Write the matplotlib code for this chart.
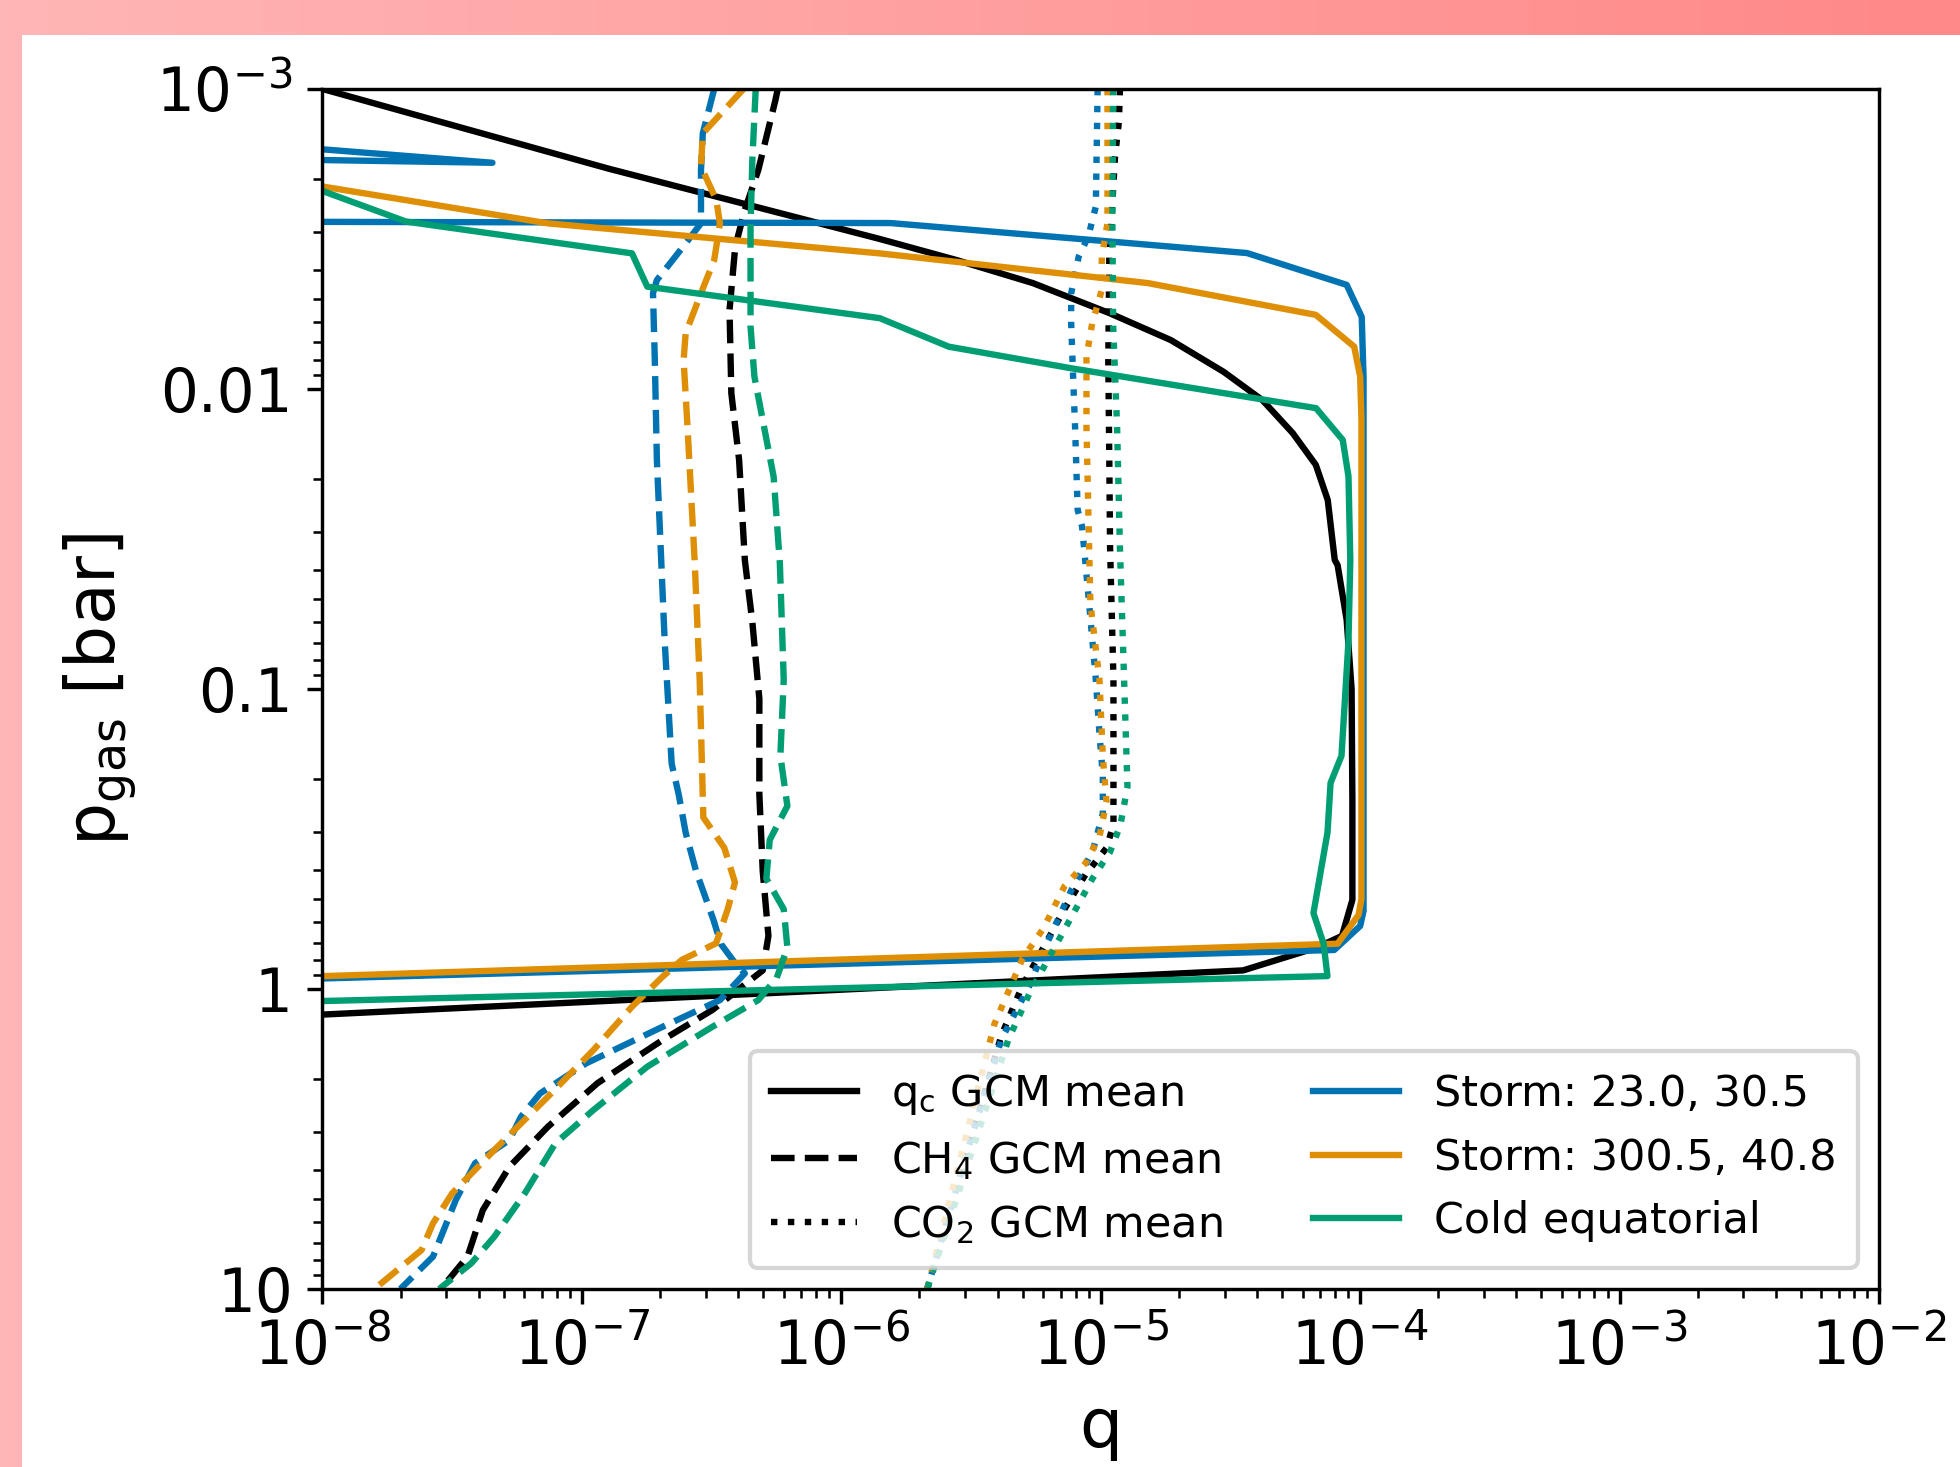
import matplotlib.pyplot as plt
import numpy as np
from matplotlib.patches import Rectangle

# values as log10(q) and log10(p_gas / bar)
# solid: cloud mass fraction q_c
mean_qc_logq = [-8.3, -8.0, -6.9, -5.852, -5.557, -5.262, -4.967, -4.730, -4.526, -4.377, -4.260,
                -4.171, -4.125, -4.098, -4.087, -4.052, -4.033, -4.03, -4.03, -4.07, -4.167, -4.451, -7.992, -8.5]
mean_qc_logp = [-3.07, -3.0, -2.735, -2.50, -2.430, -2.353, -2.253, -2.163, -2.057, -1.963, -1.853,
                -1.747, -1.630, -1.430, -1.413, -1.23, -1.0, -0.63, -0.297, -0.177, -0.138, -0.062, 0.085, 0.106]

storm1_qc_logq = [-8.5, -7.345, -8.5, -8.5, -8.0, -5.810, -5.040, -4.436, -4.052, -3.994, -3.987, -3.987,
                  -4.0, -4.10, -8.0, -8.5]
storm1_qc_logp = [-2.833, -2.754, -2.770, -2.557, -2.557, -2.553, -2.497, -2.453, -2.347, -2.24, -2.04, -0.26,
                  -0.21, -0.13, -0.035, -0.025]

storm2_qc_logq = [-8.5, -7.994, -7.131, -5.852, -4.819, -4.171, -4.023, -4.0, -3.995, -3.995, -4.006, -4.087,
                  -7.992, -8.5]
storm2_qc_logp = [-2.745, -2.674, -2.552, -2.452, -2.353, -2.247, -2.141, -2.041, -1.9, -0.30, -0.247, -0.151,
                  -0.043, -0.029]

cold_qc_logq = [-8.5, -7.994, -7.678, -6.807, -6.748, -5.852, -5.586, -5.114, -4.170, -4.067, -4.045, -4.038,
                -4.045, -4.072, -4.114, -4.126, -4.18, -4.141, -4.126, -7.992, -8.5]
cold_qc_logp = [-2.816, -2.658, -2.558, -2.452, -2.341, -2.236, -2.141, -2.069, -1.936, -1.83, -1.708, -1.43,
                -1.16, -0.777, -0.687, -0.521, -0.253, -0.151, -0.043, 0.04, 0.051]

# dashed: CH4
mean_ch4_logq = [-6.245, -6.254, -6.320, -6.372, -6.409, -6.431, -6.424, -6.394, -6.372, -6.343, -6.316, -6.316,
                 -6.303, -6.281, -6.303, -6.35, -6.497, -6.689, -6.94, -7.131, -7.279, -7.382, -7.441, -7.515, -7.545]
mean_ch4_logp = [-3.0, -2.963, -2.73, -2.597, -2.474, -2.263, -1.986, -1.763, -1.43, -1.223, -0.967, -0.649,
                 -0.393, -0.177, -0.062, -0.03, 0.07, 0.17, 0.314, 0.459, 0.592, 0.737, 0.892, 0.97, 1.0]

storm1_ch4_logq = [-6.49, -6.534, -6.541, -6.541, -6.63, -6.711, -6.726, -6.719, -6.711, -6.696, -6.681, -6.654,
                   -6.627, -6.6, -6.56, -6.492, -6.465, -6.41, -6.372, -6.468, -6.689, -6.984, -7.161, -7.235,
                   -7.279, -7.412, -7.486, -7.574, -7.7]
storm1_ch4_logp = [-3.0, -2.852, -2.73, -2.552, -2.452, -2.363, -2.319, -2.097, -1.763, -1.463, -1.16, -0.751,
                   -0.649, -0.521, -0.393, -0.228, -0.151, -0.087, -0.052, 0.037, 0.126, 0.248, 0.348, 0.426,
                   0.503, 0.581, 0.703, 0.892, 1.0]

storm2_ch4_logq = [-6.377, -6.534, -6.541, -6.482, -6.468, -6.49, -6.541, -6.6, -6.608, -6.593, -6.565, -6.546,
                   -6.532, -6.451, -6.41, -6.438, -6.483, -6.615, -6.689, -6.807, -6.955, -7.131, -7.338, -7.5,
                   -7.574, -7.618, -7.8]
storm2_ch4_logp = [-3.0, -2.852, -2.741, -2.63, -2.552, -2.43, -2.319, -2.186, -2.097, -1.874, -1.42, -1.031,
                   -0.572, -0.47, -0.355, -0.266, -0.152, -0.097, -0.041, 0.059, 0.203, 0.359, 0.537, 0.681,
                   0.781, 0.87, 1.0]

cold_ch4_logq = [-6.33, -6.343, -6.35, -6.35, -6.335, -6.298, -6.261, -6.237, -6.222, -6.235, -6.208, -6.276,
                 -6.289, -6.222, -6.208, -6.249, -6.32, -6.497, -6.748, -6.955, -7.102, -7.22, -7.338, -7.426, -7.55]
cold_ch4_logp = [-3.0, -2.763, -2.541, -2.208, -2.041, -1.874, -1.708, -1.42, -1.031, -0.777, -0.61, -0.497,
                 -0.368, -0.266, -0.138, -0.037, 0.037, 0.126, 0.259, 0.403, 0.514, 0.681, 0.826, 0.914, 1.0]

# dotted: CO2
mean_co2_logq = [-4.926, -4.930, -4.945, -4.967, -4.971, -4.967, -4.964, -4.951, -4.951, -4.951, -4.978, -5.059,
                 -5.14, -5.221, -5.302, -5.383, -5.669]
mean_co2_logp = [-3.0, -2.891, -2.774, -2.441, -2.097, -1.763, -1.469, -1.031, -0.712, -0.547, -0.47, -0.381,
                 -0.266, -0.138, -0.011, 0.155, 1.0]

storm1_co2_logq = [-5.012, -5.019, -5.048, -5.085, -5.114, -5.114, -5.107, -5.099, -5.089, -5.072, -5.045, -5.019,
                   -5.005, -4.992, -4.992, -5.032, -5.113, -5.167, -5.221, -5.275, -5.383, -5.524, -5.669]
storm1_co2_logp = [-3.0, -2.608, -2.508, -2.441, -2.319, -2.219, -2.052, -1.874, -1.597, -1.542, -1.287, -1.031,
                   -0.853, -0.712, -0.585, -0.457, -0.33, -0.228, -0.126, -0.011, 0.168, 0.57, 1.0]

storm2_co2_logq = [-4.974, -4.974, -4.996, -4.996, -5.033, -5.055, -5.055, -5.048, -5.04, -5.005, -4.992, -4.978,
                   -5.005, -5.059, -5.14, -5.221, -5.302, -5.41, -5.669]
storm2_co2_logp = [-3.0, -2.552, -2.441, -2.33, -2.219, -2.108, -1.874, -1.597, -1.287, -1.031, -0.777, -0.623,
                   -0.508, -0.419, -0.342, -0.202, -0.1, 0.117, 1.0]

cold_co2_logq = [-4.952, -4.955, -4.952, -4.937, -4.926, -4.91, -4.897, -4.924, -4.964, -5.032, -5.113, -5.194,
                 -5.275, -5.356, -5.669]
cold_co2_logp = [-3.0, -2.541, -2.208, -1.874, -1.469, -1.031, -0.674, -0.547, -0.457, -0.368, -0.24, -0.113,
                 0.015, 0.168, 1.0]

blue, orange, green = '#0173B2', '#DE8F05', '#029E73'

fig = plt.figure(figsize=(6.4, 4.7903), dpi=306.25)

# pink frame around the white figure area
bg = fig.add_axes([0, 0, 1, 1], zorder=-5)
grad = np.linspace(0, 1, 256).reshape(1, -1)
top_c = np.array([255, 182, 182]) / 255
right_c = np.array([255, 136, 136]) / 255
img = top_c[None, None, :] * (1 - grad[..., None]) + right_c[None, None, :] * grad[..., None]
bg.imshow(img, aspect='auto', extent=[0, 1, 0, 1])
bg.add_patch(Rectangle((22 / 1960, 0), 1, 1 - 35 / 1467, facecolor='white', edgecolor='none'))
bg.set_xlim(0, 1)
bg.set_ylim(0, 1)
bg.axis('off')

ax = fig.add_axes([0.16454, 0.12134, 0.79413, 0.81800])

lw = 1.5
ax.plot(10 ** np.array(mean_qc_logq), 10 ** np.array(mean_qc_logp), color='black', lw=lw)
ax.plot(10 ** np.array(mean_ch4_logq), 10 ** np.array(mean_ch4_logp), color='black', lw=lw, ls='--')
ax.plot(10 ** np.array(mean_co2_logq), 10 ** np.array(mean_co2_logp), color='black', lw=lw, ls=':')

for qc_q, qc_p, ch_q, ch_p, co_q, co_p, col in [
        (storm1_qc_logq, storm1_qc_logp, storm1_ch4_logq, storm1_ch4_logp, storm1_co2_logq, storm1_co2_logp, blue),
        (storm2_qc_logq, storm2_qc_logp, storm2_ch4_logq, storm2_ch4_logp, storm2_co2_logq, storm2_co2_logp, orange),
        (cold_qc_logq, cold_qc_logp, cold_ch4_logq, cold_ch4_logp, cold_co2_logq, cold_co2_logp, green)]:
    ax.plot(10 ** np.array(qc_q), 10 ** np.array(qc_p), color=col, lw=lw)
    ax.plot(10 ** np.array(ch_q), 10 ** np.array(ch_p), color=col, lw=lw, ls='--')
    ax.plot(10 ** np.array(co_q), 10 ** np.array(co_p), color=col, lw=lw, ls=':')

ax.set_xscale('log')
ax.set_yscale('log')
ax.set_xlim(1e-8, 1e-2)
ax.set_ylim(10, 1e-3)
ax.set_yticks([1e-3, 1e-2, 1e-1, 1, 10])
ax.set_yticklabels([r'$\mathdefault{10^{-3}}$', '0.01', '0.1', '1', '10'])
ax.tick_params(labelsize=14)
ax.set_xlabel('q', fontsize=16)
ax.set_ylabel(r'p$_{\rm gas}$ [bar]', fontsize=16)

# legend: line styles (left) and cases (right)
handles = [
    plt.Line2D([], [], color='black', lw=lw, label=r'q$_{\rm c}$ GCM mean'),
    plt.Line2D([], [], color='black', lw=lw, ls='--', label=r'CH$_4$ GCM mean'),
    plt.Line2D([], [], color='black', lw=lw, ls=':', label=r'CO$_2$ GCM mean'),
    plt.Line2D([], [], color=blue, lw=lw, label='Storm: 23.0, 30.5'),
    plt.Line2D([], [], color=orange, lw=lw, label='Storm: 300.5, 40.8'),
    plt.Line2D([], [], color=green, lw=lw, label='Cold equatorial'),
]
ax.legend(handles=handles, loc='lower right', ncol=2, fontsize=10.1, borderpad=0.5,
          columnspacing=2.1)

fig.savefig('out.png', dpi=306.25)
